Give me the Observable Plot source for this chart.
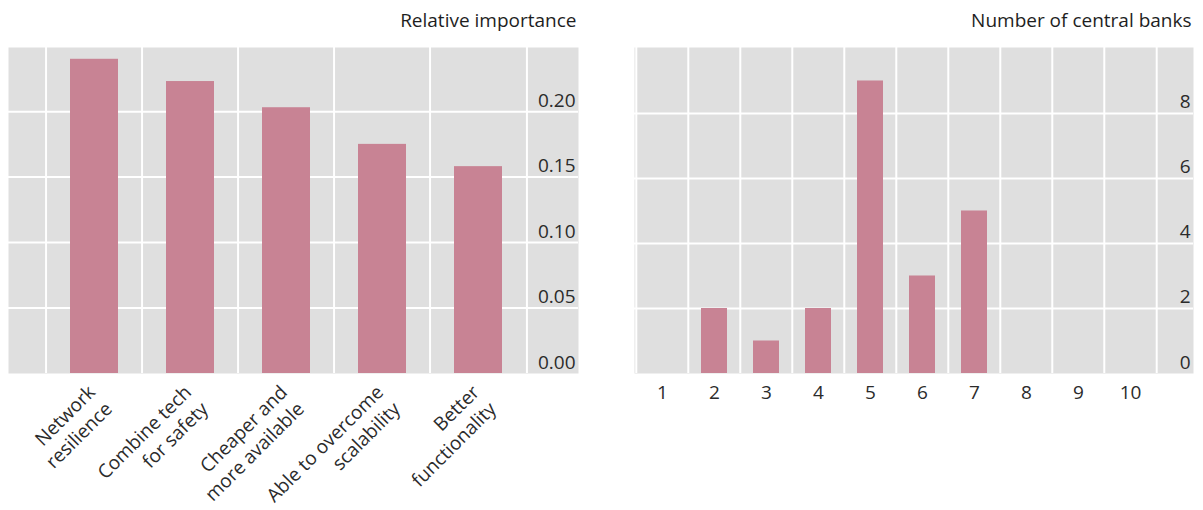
<!DOCTYPE html>
<html>
<head>
<meta charset="utf-8">
<script src="https://cdn.jsdelivr.net/npm/d3@7"></script>
<script src="https://cdn.jsdelivr.net/npm/@observablehq/plot@0.6"></script>
<style>
  body { margin: 0; background: #ffffff; }
  #wrap { display: flex; width: 1203px; height: 510px; overflow: hidden; }
  #wrap svg { display: block; flex: none; max-width: none; }
</style>
</head>
<body>
<div id="wrap"></div>
<script>
// ---- data ----
const reasons = [
  "Network\nresilience",
  "Combine tech\nfor safety",
  "Cheaper and\nmore available",
  "Able to overcome\nscalability",
  "Better\nfunctionality"
];
const importance = [0.240, 0.223, 0.203, 0.175, 0.158];
const importanceTicks = [0.00, 0.05, 0.10, 0.15, 0.20];

const counts = ["1", "2", "3", "4", "5", "6", "7", "8", "9", "10"];
const banks = [0, 2, 1, 2, 9, 3, 5, 0, 0, 0];
const bankTicks = [0, 2, 4, 6, 8];

const titles = ["Relative importance", "Number of central banks"];

// ---- style ----
const FONT = "'Open Sans', sans-serif";
const FS = 19;
const GRAY = "#dfdfdf";
const BAR = "#c88394";
const GRID = "#ffffff";
const TXT = "#2b2b2b";

function panel({width, marginLeft, marginRight, domain, xRange, values, yDomain, ticks, tickFormat, title, rotated}) {
  const step = (xRange[1] - xRange[0]) / domain.length;
  const rows = domain.map((k, i) => ({k, v: values[i]}));
  const xLabels = rotated
    ? Plot.text(domain, {x: d => d, text: d => d, frameAnchor: "bottom", textAnchor: "end", lineAnchor: "top",
        rotate: -45, dy: 8, dx: -10, lineHeight: 1.25, fontSize: FS, fill: TXT})
    : Plot.text(domain, {x: d => d, text: d => d, frameAnchor: "bottom", lineAnchor: "top",
        dy: 12, fontSize: FS, fill: TXT});
  return Plot.plot({
    width, height: 510,
    marginTop: 47, marginBottom: 137, marginLeft, marginRight,
    style: {fontFamily: FONT, fontSize: FS + "px", background: "transparent", overflow: "visible"},
    x: {type: "band", domain, range: xRange, paddingInner: 0.5, paddingOuter: 0.25, axis: null},
    y: {domain: yDomain, axis: null},
    marks: [
      Plot.frame({fill: GRAY, stroke: "none"}),
      Plot.ruleY(ticks.filter(t => t > 0), {y: d => d, stroke: GRID, strokeWidth: 2}),
      Plot.ruleX(domain, {x: d => d, dx: -step / 2, stroke: GRID, strokeWidth: 2}),
      Plot.ruleX(domain.slice(-1), {x: d => d, dx: step / 2, stroke: GRID, strokeWidth: 2}),
      Plot.barY(rows, {x: "k", y: "v", fill: BAR}),
      Plot.text(ticks, {y: d => d, text: tickFormat, frameAnchor: "right", textAnchor: "end",
        lineAnchor: "bottom", dx: -3, dy: -5, fontSize: FS, fill: TXT}),
      xLabels,
      Plot.text([title], {text: d => d, frameAnchor: "top-right", textAnchor: "end", lineAnchor: "bottom",
        dx: -2, dy: -21, fontSize: FS, fill: "#1e1e1e"})
    ]
  });
}

const left = panel({
  width: 600, marginLeft: 8, marginRight: 22,
  domain: reasons, xRange: [43.3, 527.7], values: importance,
  yDomain: [0, 0.249], ticks: importanceTicks, tickFormat: d => d.toFixed(2),
  title: titles[0], rotated: true
});

const right = panel({
  width: 603, marginLeft: 34, marginRight: 10,
  domain: counts, xRange: [34, 558], values: banks,
  yDomain: [0, 10.03], ticks: bankTicks, tickFormat: d => String(d),
  title: titles[1], rotated: false
});

const wrap = document.getElementById("wrap");
wrap.appendChild(left);
wrap.appendChild(right);
</script>
</body>
</html>
